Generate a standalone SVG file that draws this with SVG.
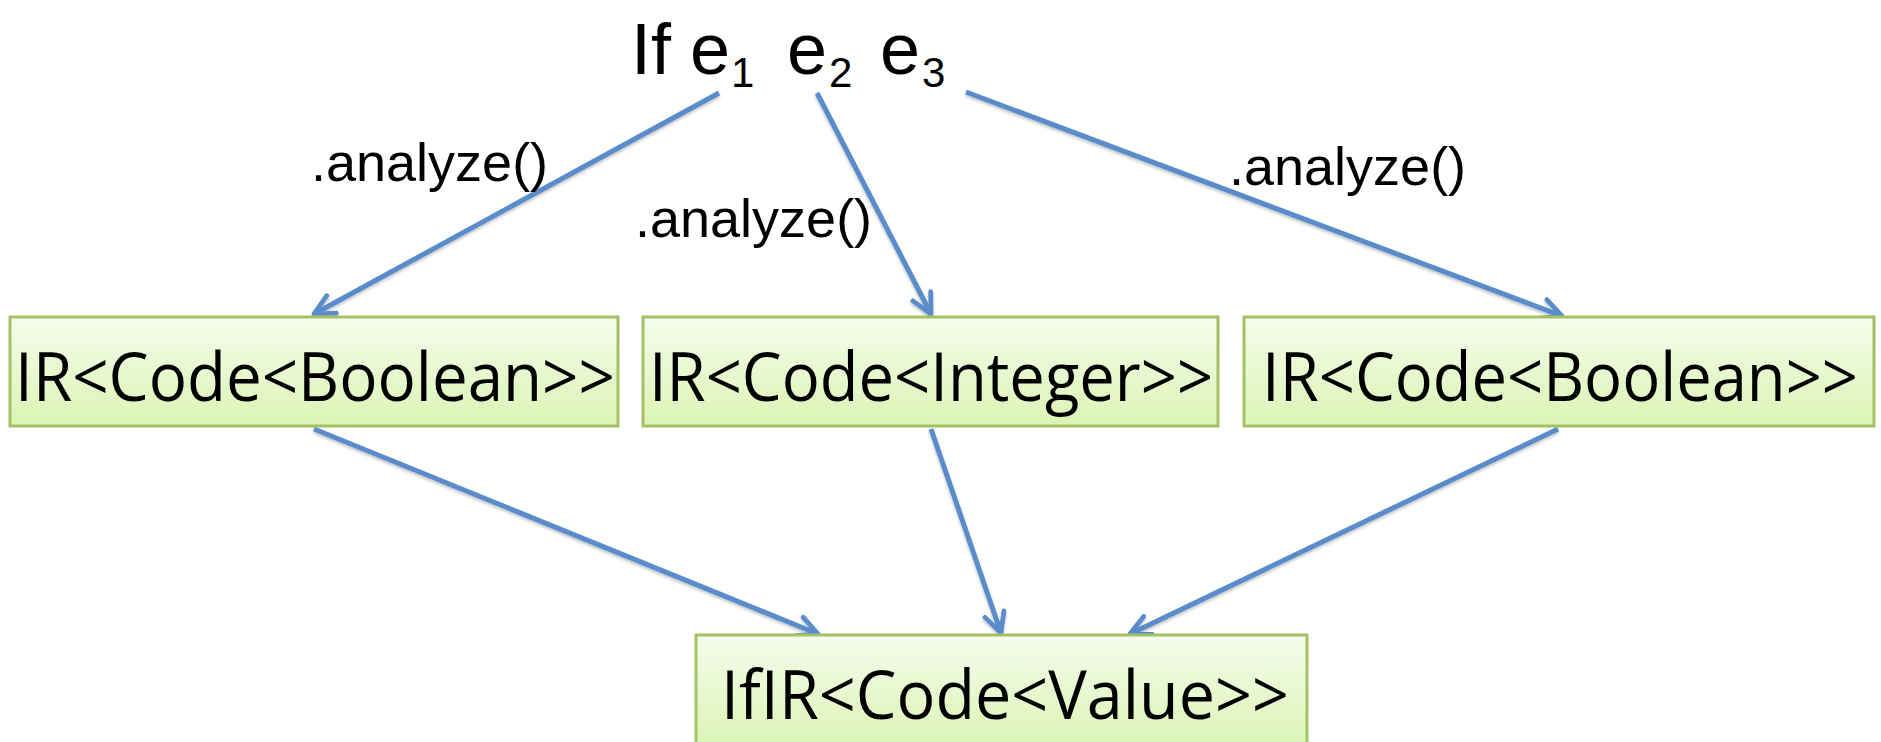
<svg xmlns="http://www.w3.org/2000/svg" width="1881" height="742" viewBox="0 0 1881 742">
  <style>
    .title { font-family: "Liberation Sans", Arial, sans-serif; fill: #000; }
    .label { font-family: "Liberation Sans", Arial, sans-serif; font-size: 54px; fill: #000; }
    .box { fill: url(#boxFill); stroke: #A4C263; stroke-width: 3; }
    .boxText { font-family: "Open Sans", "Noto Sans", sans-serif; font-size: 67px; fill: #000; text-anchor: middle; }
    .conn { fill: none; stroke: #5A8CCB; stroke-width: 5; marker-end: url(#openArrow); }
  </style>
  <defs>
    <linearGradient id="boxFill" x1="0" y1="0" x2="0" y2="1">
      <stop offset="0" stop-color="#F5FCEC"/>
      <stop offset="1" stop-color="#DBF4B4"/>
    </linearGradient>
    <marker id="openArrow" viewBox="0 0 10 10" refX="9" refY="5" markerWidth="5" markerHeight="5" orient="auto" markerUnits="strokeWidth">
      <path d="M1,1 L9,5 L1,9" fill="none" stroke="#5A8CCB" stroke-width="1.9" stroke-linecap="round" stroke-linejoin="round"/>
    </marker>
    <filter id="shadow" x="-10%" y="-10%" width="120%" height="130%">
      <feDropShadow dx="0" dy="2" stdDeviation="1.5" flood-color="#000" flood-opacity="0.25"/>
    </filter>
  </defs>

  <!-- expression heading -->
  <g id="expr">
    <text class="title" font-size="72">
      <tspan x="631" y="74">If</tspan>
      <tspan x="690" y="74">e</tspan>
      <tspan x="731" y="87" font-size="42">1</tspan>
      <tspan x="787" y="74">e</tspan>
      <tspan x="829" y="87" font-size="42">2</tspan>
      <tspan x="880" y="74">e</tspan>
      <tspan x="922" y="87" font-size="42">3</tspan>
    </text>
  </g>

  <!-- connectors -->
  <g id="connectors" filter="url(#shadow)">
    <line class="conn" x1="719" y1="93" x2="314" y2="314"/>
    <line class="conn" x1="817" y1="93" x2="931" y2="314"/>
    <line class="conn" x1="966" y1="92" x2="1562" y2="316"/>
    <line class="conn" x1="314" y1="429" x2="818" y2="634"/>
    <line class="conn" x1="931" y1="429" x2="1001" y2="633"/>
    <line class="conn" x1="1558" y1="429" x2="1130" y2="634"/>
  </g>

  <!-- edge labels -->
  <g id="labels">
    <text class="label" x="311" y="181">.analyze()</text>
    <text class="label" x="635" y="237">.analyze()</text>
    <text class="label" x="1229" y="185">.analyze()</text>
  </g>

  <!-- analysed sub-expressions (text condensed horizontally) -->
  <g id="irCond">
    <rect class="box" x="10" y="317" width="608" height="109"/>
    <text class="boxText" transform="translate(315 401) scale(0.952 1)" textLength="630" lengthAdjust="spacingAndGlyphs">IR&lt;Code&lt;Boolean&gt;&gt;</text>
  </g>
  <g id="irThen">
    <rect class="box" x="643" y="317" width="575" height="109"/>
    <text class="boxText" transform="translate(931 401) scale(0.945 1)" textLength="597" lengthAdjust="spacingAndGlyphs">IR&lt;Code&lt;Integer&gt;&gt;</text>
  </g>
  <g id="irElse">
    <rect class="box" x="1244" y="317" width="630" height="109"/>
    <text class="boxText" transform="translate(1560 401) scale(0.946 1)" textLength="630" lengthAdjust="spacingAndGlyphs">IR&lt;Code&lt;Boolean&gt;&gt;</text>
  </g>

  <!-- combined result -->
  <g id="ifIR">
    <rect class="box" x="696" y="635" width="611" height="112"/>
    <text class="boxText" transform="translate(1005 719) scale(0.966 1)" textLength="588" lengthAdjust="spacingAndGlyphs">IfIR&lt;Code&lt;Value&gt;&gt;</text>
  </g>
</svg>
